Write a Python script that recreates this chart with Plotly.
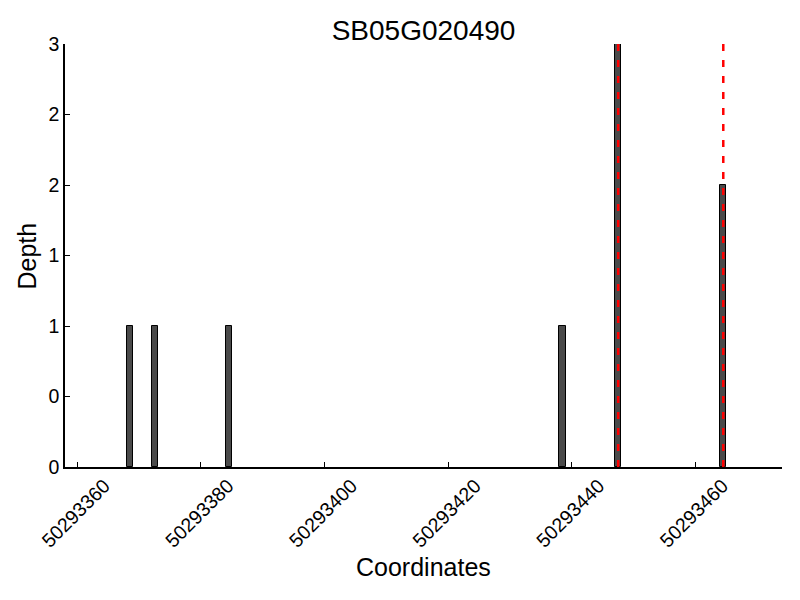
import plotly.graph_objects as go

# data
positions = [50293368, 50293372, 50293384, 50293438, 50293447, 50293464]
depths = [1, 1, 1, 1, 3, 2]
marker_positions = [50293447, 50293464]
y_tickvals = [0, 0.5, 1, 1.5, 2, 2.5, 3]
y_ticktext = ["0", "0", "1", "1", "2", "2", "3"]
x_tickvals = [50293360, 50293380, 50293400, 50293420, 50293440, 50293460]
x_ticktext = [str(v) for v in x_tickvals]

FONT = "Liberation Sans, Arial, Helvetica, sans-serif"

fig = go.Figure()
fig.add_trace(go.Bar(
    x=[p + 0.5 for p in positions], y=depths, width=1,
    marker=dict(color="#4a4a4a", line=dict(color="black", width=1)),
    showlegend=False,
))
for m in marker_positions:
    fig.add_trace(go.Scatter(
        x=[m + 0.5, m + 0.5], y=[0, 3], mode="lines",
        line=dict(color="red", width=2.5, dash="7px,9px"),
        showlegend=False, hoverinfo="skip",
    ))

# page body has an 8px margin, so the figure is sized to compensate
fig.update_layout(
    width=792, height=592,
    margin=dict(l=57, r=18, t=36, b=133),
    plot_bgcolor="white", paper_bgcolor="white",
    font=dict(family=FONT, color="black", size=19.5),
    title=dict(text="SB05G020490", xref="paper", x=0.5, xanchor="center",
               yref="container", y=1 - 22 / 592, yanchor="middle",
               font=dict(size=28, family=FONT, color="black")),
    bargap=0,
    annotations=[
        dict(text="Coordinates", xref="paper", yref="paper", x=0.5, y=-0.2364,
             xanchor="center", yanchor="middle", showarrow=False,
             font=dict(size=25, family=FONT, color="black")),
        dict(text="Depth", xref="paper", yref="paper", x=-0.053, y=0.5,
             xanchor="center", yanchor="middle", showarrow=False, textangle=-90,
             font=dict(size=25, family=FONT, color="black")),
    ],
)
fig.update_xaxes(
    range=[50293358, 50293474], automargin=False,
    tickvals=x_tickvals, ticktext=x_ticktext, tickangle=-45,
    ticklabelshift=27, ticklabelstandoff=-2,
    ticks="inside", ticklen=5, tickcolor="black",
    showline=True, linecolor="black", linewidth=1.5,
    showgrid=False, zeroline=False,
    tickfont=dict(size=19.5),
)
fig.update_yaxes(
    range=[0, 3], automargin=False,
    tickvals=y_tickvals, ticktext=y_ticktext,
    ticks="inside", ticklen=5, tickcolor="black",
    showline=True, linecolor="black", linewidth=1.5,
    showgrid=False, zeroline=False,
    tickfont=dict(size=19.5),
)

fig.write_html("out.html")
